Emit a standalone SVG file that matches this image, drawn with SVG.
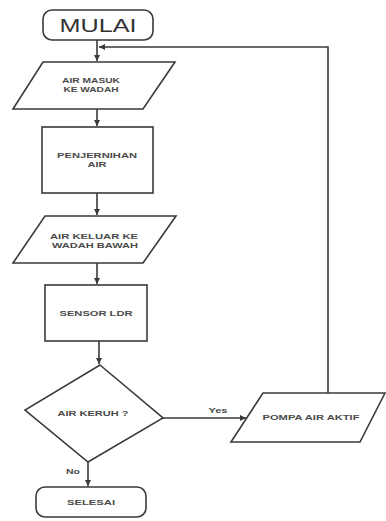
<svg xmlns="http://www.w3.org/2000/svg" width="386" height="521" viewBox="0 0 386 521">
<defs>
<style>
.shape{fill:#fff;stroke:#3a3a3a;stroke-width:1.6}
.line{fill:none;stroke:#3a3a3a;stroke-width:1.6}
.lbl{font-family:"Liberation Sans",Arial,sans-serif;font-weight:bold;font-size:8px;fill:#4a4a4a;text-anchor:middle}
.big{font-family:"Liberation Sans",Arial,sans-serif;font-size:18px;fill:#333;text-anchor:middle}
</style>
<marker id="ah" viewBox="0 0 10 10" refX="10" refY="5" markerWidth="6" markerHeight="6" orient="auto" markerUnits="userSpaceOnUse">
<path d="M0,0 L10,5 L0,10 z" fill="#3a3a3a"/>
</marker>
</defs>
<rect width="386" height="521" fill="#fff"/>
<g id="connectors">
<path class="line" d="M97,40 V61" marker-end="url(#ah)"/>
<path class="line" d="M97,109 V126" marker-end="url(#ah)"/>
<path class="line" d="M97,193 V215" marker-end="url(#ah)"/>
<path class="line" d="M97,263 V284" marker-end="url(#ah)"/>
<path class="line" d="M99,341 V364" marker-end="url(#ah)"/>
<path class="line" d="M163,418 H246" marker-end="url(#ah)"/>
<path class="line" d="M88,462 V486" marker-end="url(#ah)"/>
<path class="line" d="M328,393 V47 H99" marker-end="url(#ah)"/>
<text class="lbl" x="218" y="413" textLength="19" lengthAdjust="spacingAndGlyphs">Yes</text>
<text class="lbl" x="73" y="474" textLength="14" lengthAdjust="spacingAndGlyphs">No</text>
</g>
<g id="mulai">
<rect class="shape" x="43" y="10" width="110" height="30" rx="9"/>
<text class="big" x="98" y="32" textLength="77" lengthAdjust="spacingAndGlyphs">MULAI</text>
</g>
<g id="air-masuk">
<polygon class="shape" points="43,62 175,62 143,109 13,109"/>
<text class="lbl" x="91" y="83" textLength="58" lengthAdjust="spacingAndGlyphs">AIR MASUK</text>
<text class="lbl" x="91" y="92" textLength="55" lengthAdjust="spacingAndGlyphs">KE WADAH</text>
</g>
<g id="penjernihan">
<rect class="shape" x="42" y="127" width="111" height="66"/>
<text class="lbl" x="97" y="158" textLength="80" lengthAdjust="spacingAndGlyphs">PENJERNIHAN</text>
<text class="lbl" x="97" y="167" textLength="19" lengthAdjust="spacingAndGlyphs">AIR</text>
</g>
<g id="air-keluar">
<polygon class="shape" points="45,216 176,216 143,263 13,263"/>
<text class="lbl" x="94" y="239" textLength="88" lengthAdjust="spacingAndGlyphs">AIR KELUAR KE</text>
<text class="lbl" x="95" y="248" textLength="86" lengthAdjust="spacingAndGlyphs">WADAH BAWAH</text>
</g>
<g id="sensor">
<rect class="shape" x="45" y="285" width="102" height="56"/>
<text class="lbl" x="96" y="316" textLength="73" lengthAdjust="spacingAndGlyphs">SENSOR LDR</text>
</g>
<g id="keputusan">
<polygon class="shape" points="100,365 163,418 88,462 25,410"/>
<text class="lbl" x="93" y="416" textLength="71" lengthAdjust="spacingAndGlyphs">AIR KERUH ?</text>
</g>
<g id="pompa">
<polygon class="shape" points="263,393 385,393 360,442 231,442"/>
<text class="lbl" x="311" y="420" textLength="97" lengthAdjust="spacingAndGlyphs">POMPA AIR AKTIF</text>
</g>
<g id="selesai">
<rect class="shape" x="36" y="487" width="110" height="30" rx="9"/>
<text class="lbl" x="91" y="505" textLength="48" lengthAdjust="spacingAndGlyphs">SELESAI</text>
</g>
</svg>
